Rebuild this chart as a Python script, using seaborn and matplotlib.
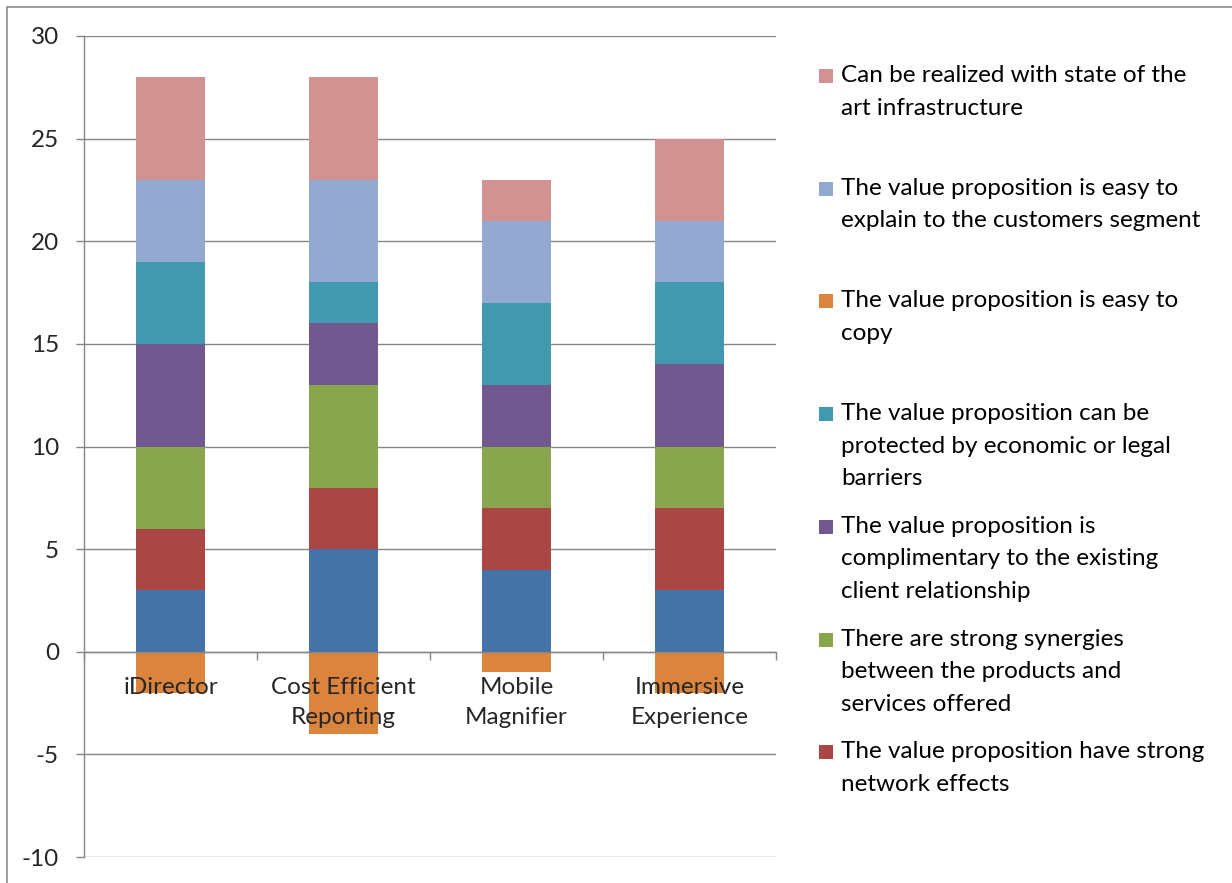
import numpy as np
import pandas as pd
import matplotlib
matplotlib.use("Agg")
import matplotlib.pyplot as plt
from matplotlib.patches import Rectangle
import seaborn as sns

# ---- data -------------------------------------------------------------
categories = ["iDirector", "Cost Efficient\nReporting", "Mobile\nMagnifier", "Immersive\nExperience"]

first_criterion = [3, 5, 4, 3]
network_effects = [3, 3, 3, 4]
synergies = [4, 5, 3, 3]
complimentary = [5, 3, 3, 4]
protected = [4, 2, 4, 4]
easy_to_copy = [-2, -4, -1, -2]
easy_to_explain = [4, 5, 4, 3]
state_of_art = [5, 5, 2, 4]

legend_labels = [
    "Can be realized with state of the\nart infrastructure",
    "The value proposition is easy to\nexplain to the customers segment",
    "The value proposition is easy to\ncopy",
    "The value proposition can be\nprotected by economic or legal\nbarriers",
    "The value proposition is\ncomplimentary to the existing\nclient relationship",
    "There are strong synergies\nbetween the products and\nservices offered",
    "The value proposition have strong\nnetwork effects",
]

yticks = [-10, -5, 0, 5, 10, 15, 20, 25, 30]

# ---- style ------------------------------------------------------------
sns.set_style("white")
plt.rcParams["font.family"] = ["Lato", "DejaVu Sans"]
FS = 17.5

colors = {
    "first": "#4572A7",
    "network": "#AA4643",
    "synergy": "#89A54E",
    "compl": "#71588F",
    "protect": "#4198AF",
    "copy": "#DB843D",
    "explain": "#93A9CF",
    "art": "#D19392",
}

W, H = 1232, 883
fig = plt.figure(figsize=(W / 100, H / 100), dpi=100)
ax = fig.add_axes([84 / W, 1 - 857 / H, (776 - 84) / W, (857 - 36) / H])

# positive stack, bottom to top
stack = [
    ("first", first_criterion),
    ("network", network_effects),
    ("synergy", synergies),
    ("compl", complimentary),
    ("protect", protected),
    ("explain", easy_to_explain),
    ("art", state_of_art),
]
cum = np.cumsum(np.array([v for _, v in stack]), axis=0)

# draw tallest cumulative first so shorter layers cover the lower part
for (key, _), tops in reversed(list(zip(stack, cum))):
    df = pd.DataFrame({"cat": categories, "val": tops})
    sns.barplot(data=df, x="cat", y="val", order=categories, color=colors[key],
                saturation=1, width=0.4, linewidth=0, ax=ax, zorder=2)

df_neg = pd.DataFrame({"cat": categories, "val": easy_to_copy})
sns.barplot(data=df_neg, x="cat", y="val", order=categories, color=colors["copy"],
            saturation=1, width=0.4, linewidth=0, ax=ax, zorder=2)

# ---- axes -------------------------------------------------------------
grid_c = "#868686"
ax.set_xlim(-0.5, 3.5)
ax.set_ylim(-10, 30)
ax.set_xlabel("")
ax.set_ylabel("")
ax.grid(False)
ax.set_axisbelow(False)
for y in yticks:
    ax.axhline(y, color=grid_c, lw=1.0, zorder=0.5)

for s in ["top", "right"]:
    ax.spines[s].set_visible(False)
ax.spines["left"].set_color(grid_c)
ax.spines["left"].set_linewidth(1.0)
ax.spines["bottom"].set_position(("data", 0))
ax.spines["bottom"].set_color(grid_c)
ax.spines["bottom"].set_linewidth(1.0)

ax.set_yticks(yticks)
ax.set_yticklabels([str(v) for v in yticks], fontsize=FS)
ax.tick_params(axis="y", length=6, width=1.0, color=grid_c, pad=12, left=True)

ax.set_xticks(range(len(categories)))
ax.set_xticklabels(categories, fontsize=FS, linespacing=1.55)
ax.tick_params(axis="x", which="major", length=0, pad=18)
ax.set_xticks([-0.5, 0.5, 1.5, 2.5, 3.5], minor=True)
ax.tick_params(axis="x", which="minor", length=6, width=1.0, color=grid_c, direction="out", bottom=True)
ax.xaxis.set_zorder(3)

# ---- legend (manual, fixed slots) ------------------------------------
legend_colors = [colors[k] for k in ["art", "explain", "copy", "protect", "compl", "synergy", "network"]]
slot0, slot_step = 76, 112.7
for i, (lab, col) in enumerate(zip(legend_labels, legend_colors)):
    yc = slot0 + i * slot_step
    fig.patches.append(Rectangle((819 / W, 1 - (yc + 7) / H), 14 / W, 14 / H,
                                 transform=fig.transFigure, facecolor=col,
                                 edgecolor="none", figure=fig))
    fig.text(841 / W, 1 - (yc - 11) / H, lab, fontsize=FS, va="top", ha="left",
             linespacing=1.68, color="#000000")

# outer frame
fig.patches.append(Rectangle((7 / W, -0.05), 1.05, 1 - 7 / H + 0.05,
                             transform=fig.transFigure, facecolor="none",
                             edgecolor="#8c8c8c", lw=1.2, figure=fig))

fig.savefig("out.png", dpi=100)
